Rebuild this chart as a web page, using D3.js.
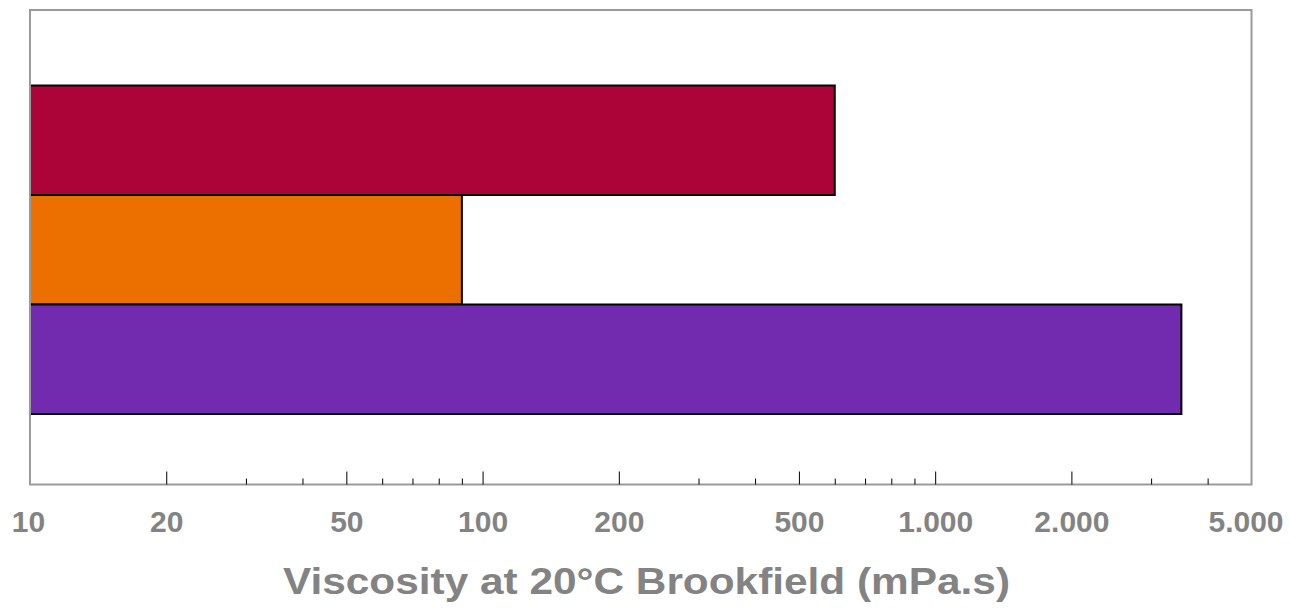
<!DOCTYPE html>
<html>
<head>
<meta charset="utf-8">
<script src="https://cdn.jsdelivr.net/npm/d3@7/dist/d3.min.js"></script>
<style>
  html, body { margin: 0; padding: 0; background: #ffffff; }
  svg { display: block; }
</style>
</head>
<body>
<svg id="chart" width="1290" height="608"></svg>
<script>
// ---- data ----
const categories = ["Product A", "Product B", "Product C"];
const viscosity = [600, 90, 3500];
const barColors = ["#AC0339", "#EC7000", "#722AAF"];
const majorTicks = [10, 20, 50, 100, 200, 500, 1000, 2000, 5000];
const minorTicks = [30, 40, 60, 70, 80, 90, 300, 400, 600, 700, 800, 900, 3000, 4000];
const xTitle = "Viscosity at 20°C Brookfield (mPa.s)";

// ---- layout ----
const svg = d3.select("#chart");
const plotLeft = 30, plotRight = 1251.5, plotTop = 10, plotBottom = 484.5;

const x = d3.scaleLog().domain([10, 5000]).range([plotLeft, plotRight]);
const y = d3.scaleBand().domain(categories).range([85.5, 414]).paddingInner(0).paddingOuter(0);

const locale = d3.formatLocale({decimal: ",", thousands: ".", grouping: [3], currency: ["", ""]});
const fmt = locale.format(",");

// bars
svg.append("g").selectAll("rect")
  .data(categories)
  .join("rect")
  .attr("x", x(10))
  .attr("y", d => y(d))
  .attr("width", (d, i) => x(viscosity[i]) - x(10))
  .attr("height", y.bandwidth())
  .attr("fill", (d, i) => barColors[i])
  .attr("stroke", "#000")
  .attr("stroke-width", 2);

// frame
svg.append("rect")
  .attr("x", plotLeft).attr("y", plotTop)
  .attr("width", plotRight - plotLeft).attr("height", plotBottom - plotTop)
  .attr("fill", "none")
  .attr("stroke", "#9a9a9a")
  .attr("stroke-width", 2);

// minor ticks
const minorAxis = d3.axisBottom(x).tickValues(minorTicks).tickSize(-6).tickFormat("");
const gMinor = svg.append("g").attr("transform", `translate(0,${plotBottom})`).call(minorAxis);
gMinor.select(".domain").remove();
gMinor.selectAll(".tick line").attr("stroke", "#000").attr("stroke-width", 1);

// major ticks + labels
const majorAxis = d3.axisBottom(x).tickValues(majorTicks).tickSize(-13).tickPadding(26).tickFormat(fmt);
const gMajor = svg.append("g").attr("transform", `translate(0,${plotBottom})`).call(majorAxis);
gMajor.select(".domain").remove();
gMajor.selectAll(".tick line").attr("stroke", "#000").attr("stroke-width", 1)
  .filter(d => d === 10 || d === 5000).remove();
gMajor.selectAll(".tick text")
  .attr("fill", "#838383")
  .attr("font-family", "Liberation Sans, Arial, sans-serif")
  .attr("font-weight", "bold")
  .attr("font-size", 30)
  .attr("dx", d => d === 5000 ? -6 : (d === 10 ? -2 : 0));

// axis title
svg.append("text")
  .attr("x", 283)
  .attr("y", 594)
  .attr("textLength", 727)
  .attr("lengthAdjust", "spacingAndGlyphs")
  .attr("fill", "#838383")
  .attr("font-family", "Liberation Sans, Arial, sans-serif")
  .attr("font-weight", "bold")
  .attr("font-size", 36)
  .text(xTitle);
</script>
</body>
</html>
